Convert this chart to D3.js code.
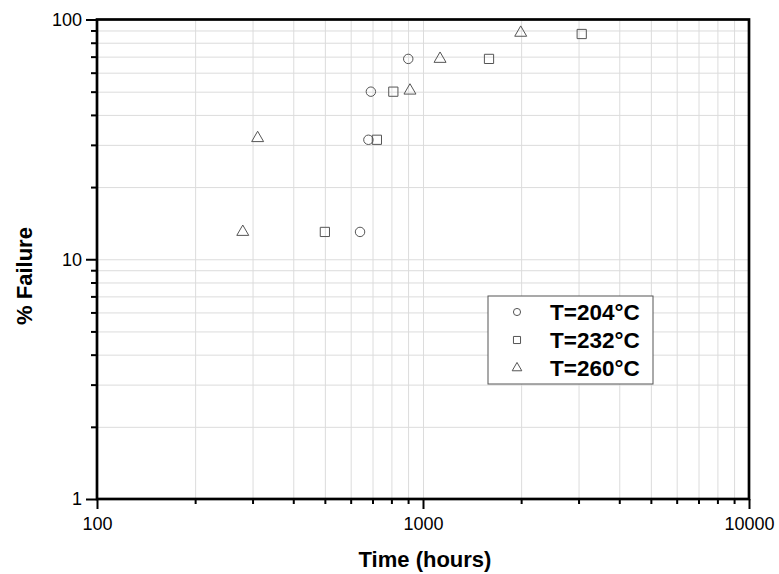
<!DOCTYPE html>
<html>
<head>
<meta charset="utf-8">
<script src="https://cdn.jsdelivr.net/npm/d3@7"></script>
<style>
  body { margin: 0; background: #fff; }
  svg text { font-family: "Liberation Sans", Arial, sans-serif; }
  .grid line { stroke: #dcdcdc; stroke-width: 1; }
  .grid path { display: none; }
  .axis path, .axis line { stroke: #000; }
</style>
</head>
<body>
<div id="graph"></div>
<script>
// data
const series = ["T=204°C", "T=232°C", "T=260°C"]
const shapes = ["circle", "square", "triangle"]
const t204 = [[641, 13], [680, 31.5], [692, 50], [901, 68.5]]
const t232 = [[500, 13], [722, 31.5], [811, 50], [1594, 68.5], [3068, 87]]
const t260 = [[280, 13], [311, 32], [912, 50.5], [1128, 68.5], [1994, 88]]
const xMajor = [100, 1000, 10000]
const yMajor = [1, 10, 100]

const margin = { top: 19.5, right: 30, bottom: 75, left: 97 },
    w = 749 - margin.left,
    h = 499 - margin.top

const svg = d3.select("#graph")
    .append("svg")
    .attr("width", 779)
    .attr("height", 574)
    .append("g")
    .attr("transform", "translate(" + margin.left + "," + margin.top + ")")

const xScale = d3.scaleLog().domain([100, 10000]).range([0, w]),
    yScale = d3.scaleLog().domain([1, 100]).range([h, 0])

const minors = (majors) => {
    let out = []
    majors.slice(0, -1).forEach(m => { for (let k = 2; k <= 9; k++) out.push(m * k) })
    return out
}
const xAll = minors(xMajor).concat(xMajor),
    yAll = minors(yMajor).concat(yMajor)

// gridlines
svg.append("g").attr("class", "grid")
    .call(d3.axisBottom(xScale).tickValues(xAll).tickSize(h).tickFormat(""))
svg.append("g").attr("class", "grid")
    .call(d3.axisLeft(yScale).tickValues(yAll).tickSize(-w).tickFormat(""))

// minor ticks
svg.append("g").attr("class", "axis")
    .attr("transform", `translate(0,${h})`)
    .call(d3.axisBottom(xScale).tickValues(minors(xMajor)).tickSize(5).tickFormat(""))
    .call(g => g.select(".domain").remove())
    .selectAll("line").attr("stroke-width", 2)
svg.append("g").attr("class", "axis")
    .call(d3.axisLeft(yScale).tickValues(minors(yMajor)).tickSize(6).tickFormat(""))
    .call(g => g.select(".domain").remove())
    .selectAll("line").attr("stroke-width", 2)

// major ticks + labels
const xAxis = svg.append("g").attr("class", "axis")
    .attr("transform", `translate(0,${h})`)
    .call(d3.axisBottom(xScale).tickValues(xMajor).tickSize(10).tickSizeOuter(0).tickFormat(d3.format("d")))
xAxis.selectAll("line").attr("stroke-width", 2)
xAxis.selectAll("text").attr("font-size", 18).attr("fill", "#000").attr("dy", "1.0em")

const yAxis = svg.append("g").attr("class", "axis")
    .call(d3.axisLeft(yScale).tickValues(yMajor).tickSize(11).tickSizeOuter(0).tickFormat(d3.format("d")))
yAxis.selectAll("line").attr("stroke-width", 2)
yAxis.selectAll("text").attr("font-size", 18).attr("fill", "#000").attr("x", -15)

// frame
svg.append("rect")
    .attr("width", w).attr("height", h)
    .attr("fill", "none").attr("stroke", "#000").attr("stroke-width", 2.7)

// markers
const sym = {
    circle: d3.symbol().type(d3.symbolCircle).size(70),
    square: d3.symbol().type(d3.symbolSquare).size(85),
    triangle: d3.symbol().type(d3.symbolTriangle).size(62)
}
const symSmall = {
    circle: d3.symbol().type(d3.symbolCircle).size(40),
    square: d3.symbol().type(d3.symbolSquare).size(50),
    triangle: d3.symbol().type(d3.symbolTriangle).size(40)
}

;[t204, t232, t260].forEach((data, i) => {
    svg.append("g").selectAll("path")
        .data(data)
        .enter()
        .append("path")
        .attr("d", sym[shapes[i]])
        .attr("transform", d => `translate(${xScale(d[0])},${yScale(d[1])})`)
        .attr("fill", "none")
        .attr("stroke", "#555")
        .attr("stroke-width", 1)
})

// legend
const legend = svg.append("g").attr("transform", `translate(${488 - margin.left},${296 - margin.top})`)
legend.append("rect")
    .attr("width", 165).attr("height", 88)
    .attr("fill", "#fff").attr("stroke", "#555").attr("stroke-width", 1)
series.forEach((s, i) => {
    const row = legend.append("g").attr("transform", `translate(0,${16 + i * 28})`)
    row.append("path")
        .attr("d", symSmall[shapes[i]])
        .attr("transform", "translate(29,0)")
        .attr("fill", "none").attr("stroke", "#555").attr("stroke-width", 1)
    row.append("text")
        .attr("x", 62).attr("y", 7.5)
        .attr("font-size", 22.5).attr("font-weight", "bold")
        .text(s)
})

// axis titles
svg.append("text")
    .attr("x", w / 2 + 2)
    .attr("y", 567 - margin.top)
    .attr("text-anchor", "middle")
    .attr("font-size", 22).attr("font-weight", "bold")
    .text("Time (hours)")

svg.append("text")
    .attr("transform", `translate(${32 - margin.left},${276 - margin.top}) rotate(-90)`)
    .attr("text-anchor", "middle")
    .attr("font-size", 22).attr("font-weight", "bold")
    .text("% Failure")
</script>
</body>
</html>
